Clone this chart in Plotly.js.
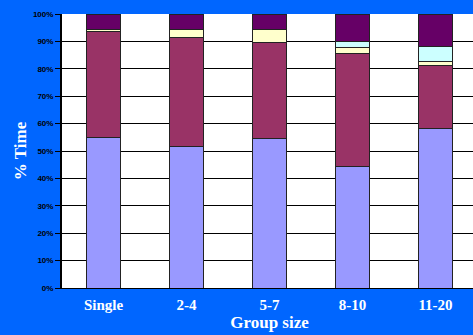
<!DOCTYPE html>
<html><head><meta charset="utf-8">
<script src="https://cdn.plot.ly/plotly-3.0.1.min.js"></script>
<style>html,body{margin:0;padding:0;overflow:hidden;background:#0066ff;}#c{width:480px;height:335px;}</style>
</head><body><div id="c"></div>
<script>
const categories = ["Single", "2-4", "5-7", "8-10", "11-20"];
const seriesA = [55.0, 51.6, 54.7, 44.3, 58.1];   // lavender
const seriesB = [38.7, 39.9, 34.8, 41.3, 23.0];   // maroon
const seriesC = [0.7, 2.7, 5.0, 2.3, 1.5];        // light yellow
const seriesD = [0.0, 0.0, 0.0, 2.0, 5.6];        // light cyan
const seriesE = [5.6, 5.8, 5.5, 10.1, 11.8];      // dark purple
const yTickVals = [0,10,20,30,40,50,60,70,80,90,100];
const yTickText = ["0%","10%","20%","30%","40%","50%","60%","70%","80%","90%","100%"];

const colors = ["#9999ff", "#993366", "#ffffcc", "#ccffff", "#660066"];
const all = [seriesA, seriesB, seriesC, seriesD, seriesE];
const traces = all.map((s, i) => ({
  type: "bar", x: categories, y: s, width: 0.4,
  marker: {color: colors[i], line: {color: "#222", width: 1}},
  hoverinfo: "none"
}));
const layout = {
  width: 480, height: 335,
  margin: {l: 62, r: 3, t: 14, b: 47},
  paper_bgcolor: "#0066ff", plot_bgcolor: "#ffffff",
  barmode: "stack", bargap: 0.6, showlegend: false,
  xaxis: {
    type: "category", range: [-0.5, 4.5], showgrid: false,
    showline: true, linecolor: "#000", linewidth: 1,
    ticks: "outside", ticklen: 3, tickcolor: "rgba(0,0,0,0)",
    tickfont: {family: "Liberation Serif", size: 15, color: "#fff", weight: "bold"},
    title: {text: "Group size", font: {family: "Liberation Serif", size: 17, color: "#fff", weight: "bold"}, standoff: 4}
  },
  yaxis: {
    range: [0, 100], tickvals: yTickVals, ticktext: yTickText,
    showgrid: true, gridcolor: "#000", gridwidth: 1,
    showline: true, linecolor: "#000", linewidth: 2,
    ticks: "outside", ticklen: 5, tickcolor: "#000", tickwidth: 1,
    tickfont: {family: "Liberation Sans", size: 8, color: "#000", weight: "bold"},
    zeroline: false,
    title: {text: "% Time", font: {family: "Liberation Serif", size: 17, color: "#fff", weight: "bold"}, standoff: 2}
  }
};
Plotly.newPlot("c", traces, layout, {displayModeBar: false, staticPlot: true});
</script></body></html>
